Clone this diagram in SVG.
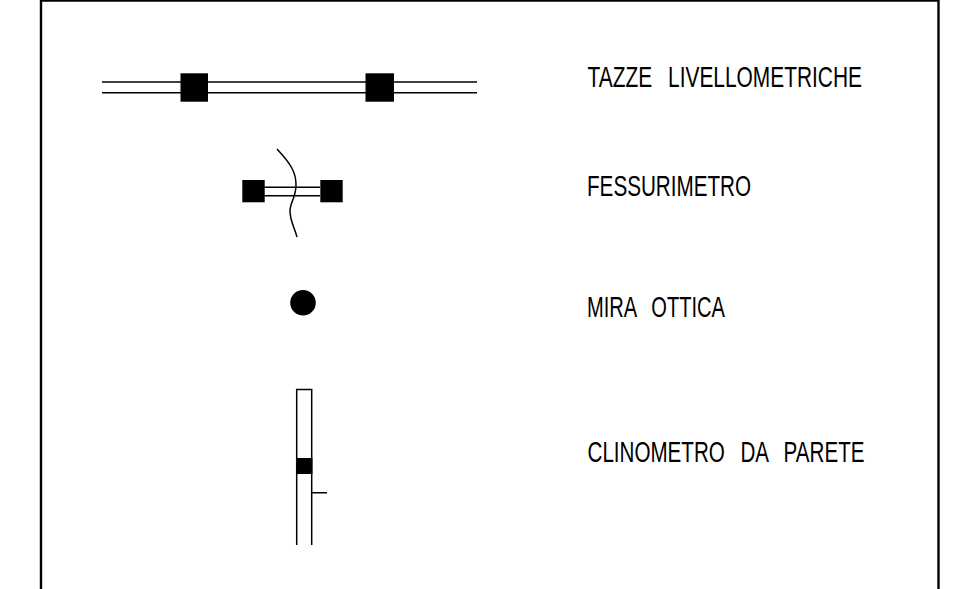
<svg xmlns="http://www.w3.org/2000/svg" width="979" height="589" viewBox="0 0 979 589">
<style>
.l{fill:none;stroke:#000;stroke-width:1.5}
.f{fill:#000;stroke:none}
text{font-family:"Liberation Sans",Arial,sans-serif;font-size:29.5px;fill:#000;white-space:pre;word-spacing:3px}
</style>
<rect width="979" height="589" fill="#fff"/>
<path id="frame" d="M41 589V0.500H938.500V589" fill="none" stroke="#000" stroke-width="2.400"/>
<g id="connectors">
<path class="l" d="M102 82H477M102 92.700H477"/>
<path class="l" d="M264 187.300H320M264 195.700H320"/>
<path class="l" d="M277 149C290 163 296.500 172 296 186C295.500 198 290 203 290 211C290 221 294 226 297 237"/>
<path class="l" d="M296.700 545V389.500H311.700V545M311.700 492.700H327"/>
</g>
<g id="tazze"><rect class="f" x="180.500" y="73.300" width="27.500" height="28.400"/><rect class="f" x="365.500" y="73.300" width="28.500" height="28.400"/></g>
<g id="fessurimetro"><rect class="f" x="242.300" y="180" width="22.400" height="22.300"/><rect class="f" x="320.300" y="180" width="22.400" height="22.300"/></g>
<g id="mira"><circle class="f" cx="303" cy="302.800" r="12.800"/></g>
<g id="clinometro"><rect class="f" x="296" y="458" width="16.400" height="16"/></g>
<g id="labels">
<text x="587.500" y="87" textLength="274.500" lengthAdjust="spacingAndGlyphs">TAZZE  LIVELLOMETRICHE</text>
<text x="587" y="196" textLength="164" lengthAdjust="spacingAndGlyphs">FESSURIMETRO</text>
<text x="587" y="317" textLength="138" lengthAdjust="spacingAndGlyphs">MIRA  OTTICA</text>
<text x="587.500" y="462" textLength="277" lengthAdjust="spacingAndGlyphs">CLINOMETRO  DA  PARETE</text>
</g>
</svg>
